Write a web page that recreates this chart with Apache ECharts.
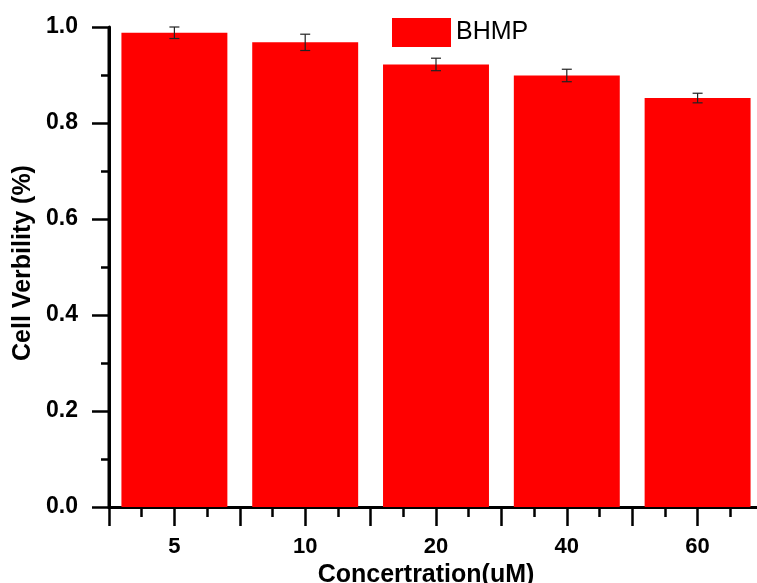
<!DOCTYPE html>
<html>
<head>
<meta charset="utf-8">
<script src="https://cdn.jsdelivr.net/npm/echarts@6/dist/echarts.min.js"></script>
<style>
html,body{margin:0;padding:0;background:#fff;}
#chart{width:757px;height:583px;}
</style>
</head>
<body>
<div id="chart"></div>
<script>
const categories = ['5', '10', '20', '40', '60'];
const values = [0.988, 0.968, 0.922, 0.899, 0.852];
const errors = [0.012, 0.017, 0.013, 0.013, 0.010];
const seriesName = 'BHMP';
const yTicks = [0, 0.2, 0.4, 0.6, 0.8, 1.0];

const font = '"Liberation Sans", Arial, sans-serif';
const chart = echarts.init(document.getElementById('chart'), null, {renderer: 'canvas'});

const errData = values.map((v, i) => [i, v - errors[i], v + errors[i]]);
const yMin = yTicks[0], yMax = yTicks[yTicks.length - 1];
const halfSlots = categories.length * 2;

const yTickAxis = (interval, len) => ({
  type: 'value',
  position: 'left',
  offset: 0,
  min: yMin, max: yMax, interval: interval,
  axisLine: {show: false},
  axisTick: {show: true, length: len, lineStyle: {color: '#000', width: 2.5}},
  axisLabel: {show: false},
  splitLine: {show: false}
});
const xTickAxis = (interval, len) => ({
  type: 'value',
  position: 'bottom',
  offset: 0,
  min: 0, max: halfSlots, interval: interval,
  axisLine: {show: false},
  axisTick: {show: true, length: len, lineStyle: {color: '#000', width: 2.5}},
  axisLabel: {show: false},
  splitLine: {show: false}
});

chart.setOption({
  animation: false,
  backgroundColor: '#fff',
  grid: {left: 109, top: 27, width: 654, height: 480, containLabel: false, outerBoundsMode: 'none'},
  legend: {
    data: [{name: seriesName, icon: 'rect'}],
    left: 392, top: 18, padding: 0,
    itemWidth: 59, itemHeight: 29,
    textStyle: {fontFamily: font, fontSize: 25, color: '#000'}
  },
  xAxis: [{
    type: 'category',
    data: categories,
    position: 'bottom',
    name: 'Concertration(uM)',
    nameLocation: 'middle',
    nameGap: 50,
    nameTextStyle: {fontFamily: font, fontSize: 25, fontWeight: 'bold', color: '#000', padding: [0, 20, 0, 0]},
    axisLine: {show: true, lineStyle: {color: '#000', width: 3}},
    axisTick: {show: false},
    axisLabel: {fontFamily: font, fontSize: 22, fontWeight: 'bold', color: '#000', margin: 29},
    splitLine: {show: false}
  }, xTickAxis(1, 19), xTickAxis(0.5, 10)],
  yAxis: [{
    type: 'value',
    position: 'left',
    min: yMin, max: yMax, interval: 0.2,
    name: 'Cell Verbility (%)',
    nameLocation: 'middle',
    nameGap: 67,
    nameTextStyle: {fontFamily: font, fontSize: 25, fontWeight: 'bold', color: '#000', padding: [0, 0, 0, 8]},
    axisLine: {show: true, lineStyle: {color: '#000', width: 3}},
    axisTick: {show: false},
    axisLabel: {fontFamily: font, fontSize: 23, fontWeight: 'bold', color: '#000', margin: 31,
      formatter: v => v.toFixed(1)},
    splitLine: {show: false}
  }, yTickAxis(0.2, 17), yTickAxis(0.1, 8)],
  series: [{
    name: seriesName,
    type: 'bar',
    xAxisIndex: 0,
    yAxisIndex: 0,
    data: values,
    barCategoryGap: '19%',
    itemStyle: {color: '#ff0000'}
  }, {
    type: 'custom',
    name: 'err',
    xAxisIndex: 0,
    yAxisIndex: 0,
    data: errData,
    z: 10,
    renderItem: function (params, api) {
      const x = api.value(0);
      const lo = api.coord([x, api.value(1)]);
      const hi = api.coord([x, api.value(2)]);
      const hw = 5;
      const st = {stroke: '#222', lineWidth: 1.2};
      return {
        type: 'group',
        children: [
          {type: 'line', shape: {x1: lo[0], y1: lo[1], x2: hi[0], y2: hi[1]}, style: st},
          {type: 'line', shape: {x1: lo[0] - hw, y1: lo[1], x2: lo[0] + hw, y2: lo[1]}, style: st},
          {type: 'line', shape: {x1: hi[0] - hw, y1: hi[1], x2: hi[0] + hw, y2: hi[1]}, style: st}
        ]
      };
    }
  }, {
    // left axis spine, placed from the category scale's band and the y range
    type: 'custom',
    name: 'ySpine',
    xAxisIndex: 0,
    yAxisIndex: 0,
    silent: true,
    clip: false,
    z: 5,
    data: [[0, yMin, yMax]],
    renderItem: function (params, api) {
      const band = api.size([1, 0])[0];
      const p0 = api.coord([api.value(0), api.value(1)]);
      const p1 = api.coord([api.value(0), api.value(2)]);
      const x = p0[0] - band / 2;
      return {
        type: 'line',
        shape: {x1: x, y1: p0[1] + 1.5, x2: x, y2: p1[1]},
        style: {stroke: '#000', lineWidth: 3}
      };
    }
  }]
});
</script>
</body>
</html>
